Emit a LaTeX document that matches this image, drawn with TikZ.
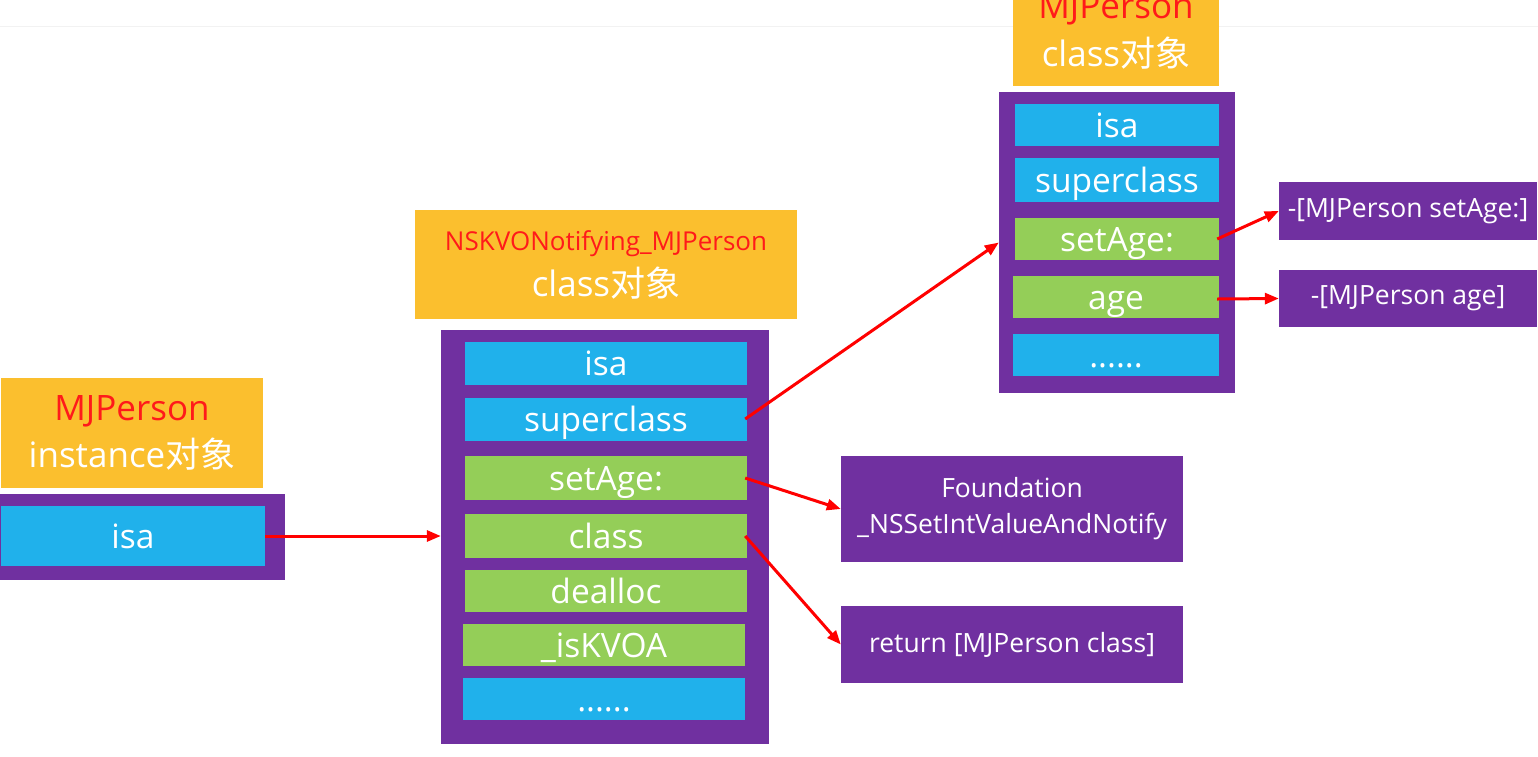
\documentclass[tikz,border=0pt]{standalone}
\usepackage{fontspec}
\setmainfont{Open Sans}
\newfontfamily\cjk{Noto Sans CJK SC}
\usetikzlibrary{arrows.meta}
\definecolor{kvogold}{HTML}{FBBF2E}
\definecolor{kvopurple}{HTML}{7030A0}
\definecolor{kvoblue}{HTML}{20B1EB}
\definecolor{kvogreen}{HTML}{94CE58}
\definecolor{kvored}{HTML}{FF1A1A}
\begin{document}
\begin{tikzpicture}[x=1pt,y=-1pt]
\tikzset{title box/.style=
            {fill=kvogold,inner sep=0pt,align=center,text=white,
             font=\fontsize{35}{47}\selectfont},
         body box/.style=
            {fill=kvopurple,inner sep=0pt},
         isa field/.style=
            {fill=kvoblue,inner sep=0pt,text=white,minimum height=43pt,
             text height=29pt,text depth=5pt,font=\fontsize{33.5}{38}\selectfont},
         imp field/.style=
            {isa field,fill=kvogreen},
         method box/.style=
            {fill=kvopurple,inner sep=0pt,text=white,align=center,
             font=\fontsize{26.5}{36}\selectfont},
         ptr/.style=
            {draw=red,line width=3pt,-{Triangle[length=14pt,width=11pt]}}}
\clip (0,0) rectangle (1538,756);
\fill[white] (0,0) rectangle (1538,756);
\draw[black!5,line width=1.5pt] (0,26.5) -- (1538,26.5);
% MJPerson instance
\node[title box,minimum width=262pt,minimum height=110pt] (instlabel) at (132,433)
    {\textcolor{kvored}{MJPerson}\\instance{\cjk 对象}};
\node[body box,minimum width=285pt,minimum height=86pt] (instbody) at (142.5,537) {};
\node[isa field,minimum width=264pt,minimum height=60pt] (instisa) at (133,536) {isa};
% NSKVONotifying_MJPerson class
\node[title box,minimum width=382pt,minimum height=109pt,font=\fontsize{35}{46}\selectfont] (kvolabel) at (606,264.5)
    {\fontsize{26}{46}\selectfont\textcolor{kvored}{NSKVONotifying\_MJPerson}\\class{\cjk 对象}};
\node[body box,minimum width=328pt,minimum height=414pt] (kvobody) at (605,537) {};
\node[isa field,minimum width=282pt] (kvoisa) at (606,363) {isa};
\node[isa field,minimum width=282pt] (kvosuper) at (606,419) {superclass};
\node[imp field,minimum width=282pt,minimum height=44pt] (kvoset) at (606,478) {setAge:};
\node[imp field,minimum width=282pt,minimum height=44pt] (kvoclass) at (606,536) {class};
\node[imp field,minimum width=282pt,minimum height=42pt] (kvodealloc) at (606,591) {dealloc};
\node[imp field,minimum width=282pt,minimum height=42pt] (kvoiskvoa) at (604,645) {\_isKVOA};
\node[isa field,minimum width=282pt,minimum height=42pt] (kvomore) at (604,699) {......};
% MJPerson class
\node[title box,minimum width=206pt,minimum height=110pt,font=\fontsize{35}{48}\selectfont] (clslabel) at (1116,31)
    {\textcolor{kvored}{MJPerson}\\class{\cjk 对象}};
\node[body box,minimum width=236pt,minimum height=301pt] (clsbody) at (1117,242.5) {};
\node[isa field,minimum width=204pt,minimum height=42pt] (clsisa) at (1117,125) {isa};
\node[isa field,minimum width=204pt,minimum height=44pt] (clssuper) at (1117,180) {superclass};
\node[imp field,minimum width=204pt,minimum height=42pt] (clsset) at (1117,239) {setAge:};
\node[imp field,minimum width=206pt,minimum height=42pt] (clsage) at (1116,297) {age};
\node[isa field,minimum width=206pt,minimum height=42pt] (clsmore) at (1116,355) {......};
% implementations
\node[method box,minimum width=342pt,minimum height=106pt] (foundimp) at (1012,509)
    {Foundation\\\_NSSetIntValueAndNotify};
\node[method box,minimum width=342pt,minimum height=77pt] (retimp) at (1012,644.5)
    {return [MJPerson class]};
\node[method box,minimum width=258pt,minimum height=58pt] (setimp) at (1408,211)
    {-[MJPerson setAge:]};
\node[method box,minimum width=258pt,minimum height=57pt] (ageimp) at (1408,298.5)
    {-[MJPerson age]};
\draw[ptr] (instisa.east) -- (instisa.east -| kvobody.west);
\draw[ptr] ([xshift=-2pt]kvosuper.east) -- (clsbody.west);
\draw[ptr] ([xshift=-2pt]kvoset.east) -- (foundimp.west);
\draw[ptr] ([xshift=-2pt]kvoclass.east) -- (retimp.west);
\draw[ptr] ([xshift=-2pt]clsset.east) -- (setimp.west);
\draw[ptr] ([xshift=-2pt,yshift=-2pt]clsage.east) -- (ageimp.west);
\end{tikzpicture}
\end{document}
